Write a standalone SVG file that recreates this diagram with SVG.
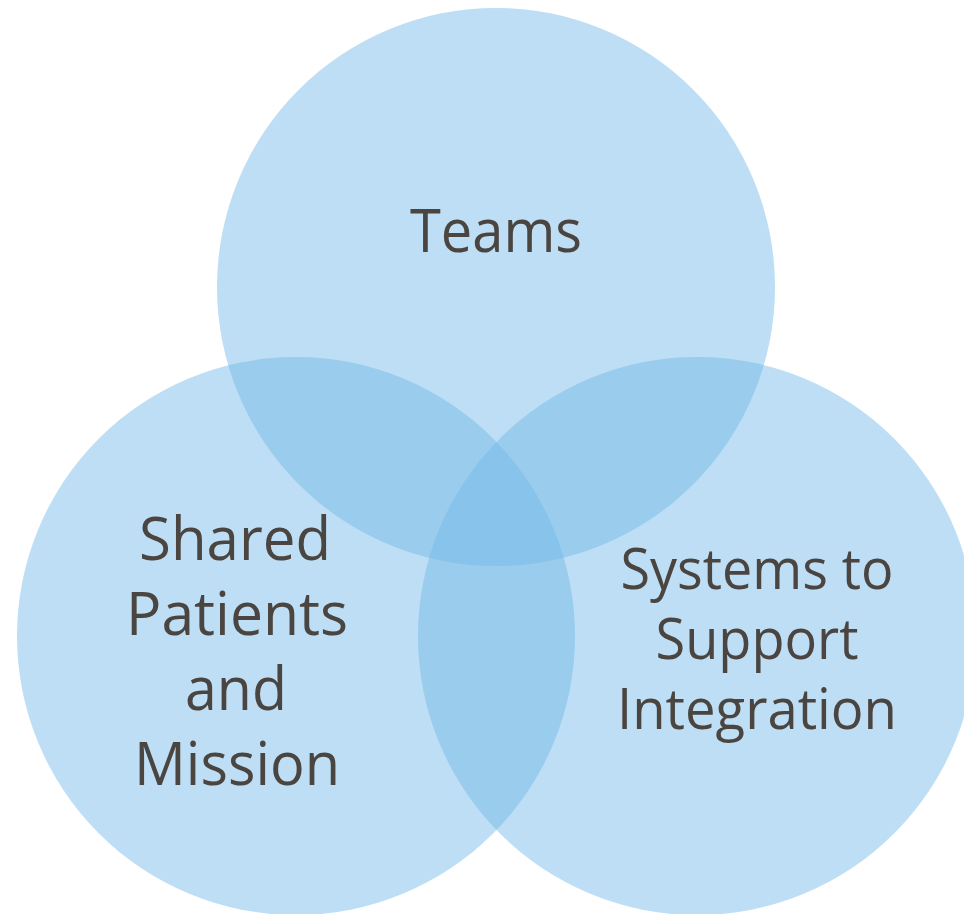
<svg xmlns="http://www.w3.org/2000/svg" width="964" height="914" viewBox="0 0 964 914">
  <style>
    .c { fill: rgb(115,185,232); fill-opacity: 0.47; }
    .t { font-family: "Open Sans", "Noto Sans", sans-serif; font-size: 60px; fill: #4a4541; text-anchor: middle; }
    .r { font-size: 56px; }
  </style>
  <rect width="964" height="914" fill="#ffffff"/>
  <g id="teams">
    <circle class="c" cx="496" cy="287" r="279"/>
    <text class="t" x="496" y="252" textLength="172" lengthAdjust="spacingAndGlyphs">Teams</text>
  </g>
  <g id="shared">
    <circle class="c" cx="296" cy="636" r="279"/>
    <text class="t" x="235" y="560" textLength="192" lengthAdjust="spacingAndGlyphs">Shared</text>
    <text class="t" x="237" y="635" textLength="222" lengthAdjust="spacingAndGlyphs">Patients</text>
    <text class="t" x="236" y="710" textLength="102" lengthAdjust="spacingAndGlyphs">and</text>
    <text class="t" x="237" y="785" textLength="206" lengthAdjust="spacingAndGlyphs">Mission</text>
  </g>
  <g id="systems">
    <circle class="c" cx="697" cy="636" r="279"/>
    <text class="t r" x="757" y="589" textLength="273" lengthAdjust="spacingAndGlyphs">Systems to</text>
    <text class="t r" x="757" y="659" textLength="203" lengthAdjust="spacingAndGlyphs">Support</text>
    <text class="t r" x="757" y="729" textLength="280" lengthAdjust="spacingAndGlyphs">Integration</text>
  </g>
  <g id="connectors"></g>
</svg>
